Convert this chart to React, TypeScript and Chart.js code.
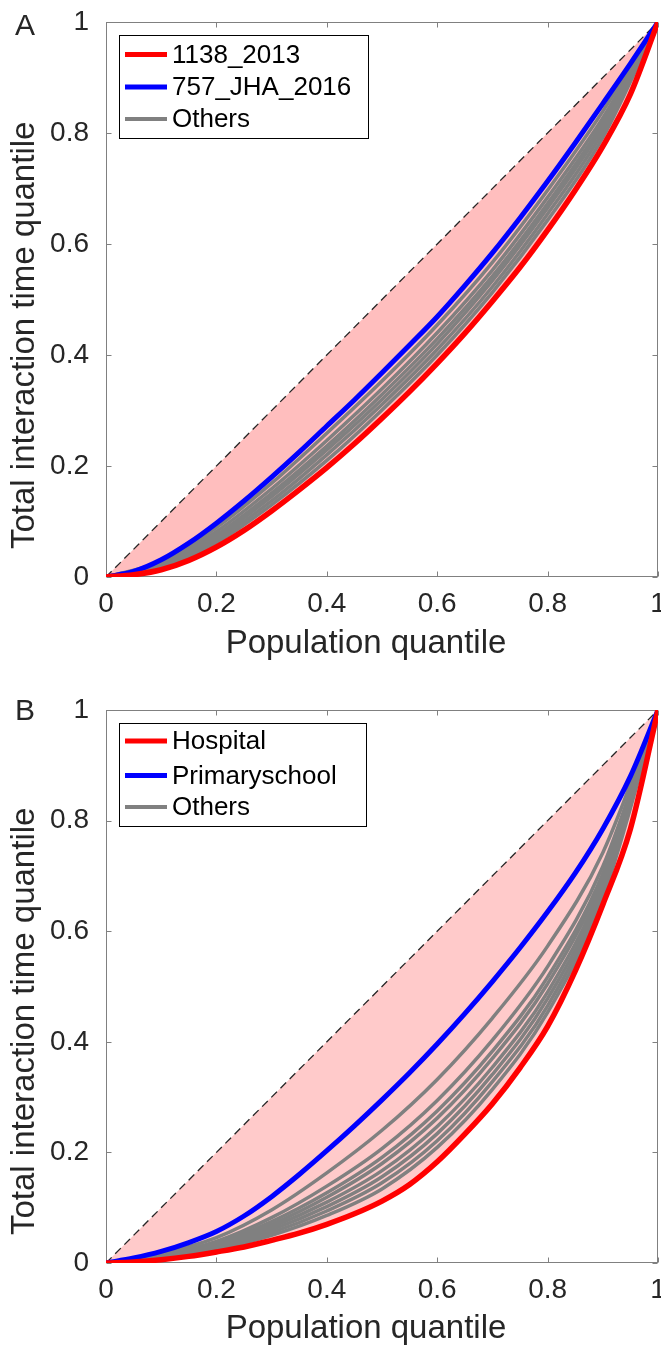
import React, { useEffect, useRef } from "react";
import { Chart, registerables } from "chart.js";

Chart.register(...registerables);

// ---------- data ----------
const quantileFine = [0, 0.05, 0.1, 0.15, 0.2, 0.25, 0.3, 0.35, 0.4, 0.45, 0.5, 0.55, 0.6, 0.65, 0.7, 0.75, 0.8, 0.85, 0.9, 0.95, 1];
const quantileCoarse = [0, 0.1, 0.2, 0.3, 0.4, 0.5, 0.6, 0.7, 0.8, 0.9, 1];
const equalityLine = [0, 1];

const xTickValues = [0, 0.2, 0.4, 0.6, 0.8, 1];
const xTickLabels = ["0", "0.2", "0.4", "0.6", "0.8", "1"];
const yTickValues = [0, 0.2, 0.4, 0.6, 0.8, 1];
const yTickLabels = ["0", "0.2", "0.4", "0.6", "0.8", "1"];

const xTitle = "Population quantile";
const yTitle = "Total interaction time quantile";
const othersName = "Others";

// Panel A
const panelALetter = "A";
const panelARedName = "1138_2013";
const panelARed = [0, 0.004, 0.013, 0.03, 0.054, 0.084, 0.119, 0.157, 0.197, 0.24, 0.286, 0.334, 0.385, 0.439, 0.497, 0.558, 0.625, 0.697, 0.776, 0.87, 1];
const panelABlueName = "757_JHA_2016";
const panelABlue = [0, 0.01, 0.031, 0.061, 0.097, 0.137, 0.18, 0.225, 0.272, 0.319, 0.368, 0.418, 0.469, 0.525, 0.584, 0.647, 0.713, 0.782, 0.853, 0.925, 1];
const panelAOther1 = [0, 0.028, 0.089, 0.169, 0.259, 0.353, 0.454, 0.567, 0.697, 0.839, 1];
const panelAOther2 = [0, 0.025, 0.082, 0.159, 0.246, 0.339, 0.44, 0.553, 0.684, 0.827, 1];
const panelAOther3 = [0, 0.022, 0.076, 0.151, 0.236, 0.329, 0.429, 0.542, 0.673, 0.818, 1];
const panelAOther4 = [0, 0.021, 0.072, 0.145, 0.229, 0.32, 0.42, 0.534, 0.665, 0.811, 1];
const panelAOther5 = [0, 0.018, 0.067, 0.137, 0.22, 0.311, 0.41, 0.523, 0.654, 0.802, 1];
const panelAOther6 = [0, 0.016, 0.062, 0.13, 0.21, 0.301, 0.4, 0.513, 0.643, 0.792, 1];

// Panel B
const panelBLetter = "B";
const panelBRedName = "Hospital";
const panelBRed = [0, 0.002, 0.006, 0.012, 0.02, 0.029, 0.041, 0.054, 0.07, 0.089, 0.112, 0.142, 0.183, 0.233, 0.288, 0.353, 0.428, 0.528, 0.648, 0.785, 1];
const panelBBlueName = "Primaryschool";
const panelBBlue = [0, 0.009, 0.021, 0.037, 0.057, 0.085, 0.12, 0.16, 0.203, 0.248, 0.295, 0.344, 0.396, 0.451, 0.509, 0.57, 0.635, 0.705, 0.785, 0.88, 1];
const panelBOther1 = [0, 0.017, 0.046, 0.096, 0.163, 0.24, 0.332, 0.443, 0.573, 0.742, 1];
const panelBOther2 = [0, 0.014, 0.039, 0.082, 0.139, 0.207, 0.294, 0.403, 0.536, 0.717, 1];
const panelBOther3 = [0, 0.012, 0.036, 0.075, 0.127, 0.191, 0.275, 0.383, 0.517, 0.704, 1];
const panelBOther4 = [0, 0.012, 0.034, 0.07, 0.119, 0.18, 0.262, 0.37, 0.505, 0.696, 1];
const panelBOther5 = [0, 0.011, 0.031, 0.065, 0.11, 0.167, 0.247, 0.354, 0.49, 0.686, 1];
const panelBOther6 = [0, 0.01, 0.029, 0.06, 0.102, 0.156, 0.234, 0.341, 0.478, 0.677, 1];
const panelBOther7 = [0, 0.009, 0.027, 0.055, 0.094, 0.145, 0.221, 0.328, 0.465, 0.669, 1];
const panelBOther8 = [0, 0.008, 0.024, 0.05, 0.086, 0.134, 0.209, 0.314, 0.453, 0.66, 1];

// ---------- styles ----------
const FONT = "'Liberation Sans', Arial, Helvetica, sans-serif";
const RED = "#ff0000";
const BLUE = "#0000ff";
const GRAY = "#808080";
const AXIS = "#808080";
const TEXT = "#262626";

type Layout = {
  canvasH: number;
  padTop: number;
  xAxisH: number;
  fill: string;
  letter: { x: number; y: number };
  yTitle: { x: number; y: number };
  xTitle: { x: number; y: number };
  legend: { x: number; y: number; w: number; h: number; rows: number[] };
};

type Spec = {
  letter: string;
  redName: string;
  red: number[];
  blueName: string;
  blue: number[];
  others: number[][];
  layout: Layout;
};

const specA: Spec = {
  letter: panelALetter,
  redName: panelARedName,
  red: panelARed,
  blueName: panelABlueName,
  blue: panelABlue,
  others: [panelAOther1, panelAOther2, panelAOther3, panelAOther4, panelAOther5, panelAOther6],
  layout: {
    canvasH: 672,
    padTop: 22,
    xAxisH: 95,
    fill: "#ffbebe",
    letter: { x: 15, y: 35 },
    yTitle: { x: 34, y: 549 },
    xTitle: { x: 366, y: 653 },
    legend: { x: 119.5, y: 35.5, w: 249, h: 103, rows: [19, 51.5, 83.5] },
  },
};

const specB: Spec = {
  letter: panelBLetter,
  redName: panelBRedName,
  red: panelBRed,
  blueName: panelBBlueName,
  blue: panelBBlue,
  others: [panelBOther1, panelBOther2, panelBOther3, panelBOther4, panelBOther5, panelBOther6, panelBOther7, panelBOther8],
  layout: {
    canvasH: 673,
    padTop: 38,
    xAxisH: 82,
    fill: "#ffcaca",
    letter: { x: 15, y: 48 },
    yTitle: { x: 34, y: 563 },
    xTitle: { x: 366, y: 666 },
    legend: { x: 119.5, y: 51.5, w: 247, h: 103, rows: [17.5, 52, 83.5] },
  },
};

function Panel({ spec }: { spec: Spec }) {
  const ref = useRef<HTMLCanvasElement>(null);

  useEffect(() => {
    const canvas = ref.current;
    if (!canvas) return;
    const L = spec.layout;
    const toPts = (xs: number[], ys: number[]) => xs.map((x, i) => ({ x, y: ys[i] }));
    const common = {
      pointRadius: 0,
      pointHoverRadius: 0,
      cubicInterpolationMode: "monotone",
      borderJoinStyle: "round",
    };
    const datasets: any[] = [
      { ...common, label: spec.redName, data: toPts(quantileFine, spec.red), borderColor: RED, borderWidth: 5.5, fill: 2, backgroundColor: L.fill },
      { ...common, label: spec.blueName, data: toPts(quantileFine, spec.blue), borderColor: BLUE, borderWidth: 5, fill: false },
      { ...common, label: "equality", data: toPts(equalityLine, equalityLine), borderColor: "#262626", borderWidth: 1.3, borderDash: [8, 5], fill: false },
      ...spec.others.map((ys, i) => ({
        ...common,
        label: i === 0 ? othersName : othersName + " " + (i + 1),
        data: toPts(quantileCoarse, ys),
        borderColor: GRAY,
        borderWidth: 3.5,
        fill: false,
      })),
    ];

    const legendItems = [
      { text: spec.redName, color: RED, width: 5 },
      { text: spec.blueName, color: BLUE, width: 5 },
      { text: othersName, color: GRAY, width: 4 },
    ];

    const framePlugin = {
      id: "frame",
      beforeDatasetsDraw(chart: any) {
        const { ctx, chartArea: a, scales } = chart;
        ctx.save();
        ctx.strokeStyle = AXIS;
        ctx.lineWidth = 1;
        const l = a.left + 0.5, r = a.right - 0.5, t = a.top + 0.5, b = a.bottom - 0.5;
        ctx.strokeRect(l, t, r - l, b - t);
        ctx.beginPath();
        for (const tk of scales.x.ticks) {
          const px = Math.round(scales.x.getPixelForValue(tk.value)) + 0.5;
          ctx.moveTo(px, b); ctx.lineTo(px, b - 5);
          ctx.moveTo(px, t); ctx.lineTo(px, t + 5);
        }
        for (const tk of scales.y.ticks) {
          const py = Math.round(scales.y.getPixelForValue(tk.value)) + 0.5;
          ctx.moveTo(l, py); ctx.lineTo(l + 5, py);
          ctx.moveTo(r, py); ctx.lineTo(r - 5, py);
        }
        ctx.stroke();
        ctx.restore();
      },
    };

    const textPlugin = {
      id: "texts",
      afterDraw(chart: any) {
        const { ctx } = chart;
        ctx.save();
        ctx.fillStyle = TEXT;
        ctx.font = `30px ${FONT}`;
        ctx.textAlign = "left";
        ctx.textBaseline = "alphabetic";
        ctx.fillText(spec.letter, L.letter.x, L.letter.y);
        ctx.font = `33px ${FONT}`;
        ctx.textAlign = "center";
        ctx.fillText(xTitle, L.xTitle.x, L.xTitle.y);
        ctx.save();
        ctx.translate(L.yTitle.x, L.yTitle.y);
        ctx.rotate(-Math.PI / 2);
        ctx.textAlign = "left";
        ctx.fillText(yTitle, 0, 0);
        ctx.restore();
        const lg = L.legend;
        ctx.fillStyle = "#ffffff";
        ctx.fillRect(lg.x, lg.y, lg.w, lg.h);
        ctx.strokeStyle = "#000000";
        ctx.lineWidth = 1;
        ctx.strokeRect(lg.x, lg.y, lg.w, lg.h);
        ctx.font = `26px ${FONT}`;
        ctx.textAlign = "left";
        ctx.textBaseline = "middle";
        legendItems.forEach((it, i) => {
          const cy = lg.y + lg.rows[i];
          ctx.strokeStyle = it.color;
          ctx.lineWidth = it.width;
          ctx.beginPath();
          ctx.moveTo(lg.x + 5.5, cy);
          ctx.lineTo(lg.x + 47.5, cy);
          ctx.stroke();
          ctx.fillStyle = "#000000";
          ctx.fillText(it.text, lg.x + 52.5, cy + 1);
        });
        ctx.restore();
      },
    };

    const chart = new Chart(canvas, {
      type: "line",
      data: { datasets },
      options: {
        responsive: false,
        animation: false,
        devicePixelRatio: 1,
        events: [],
        layout: { padding: { left: 0, right: 3, top: L.padTop, bottom: 0 } },
        plugins: {
          legend: { display: false },
          tooltip: { enabled: false },
          filler: { drawTime: "beforeDatasetsDraw" },
        },
        scales: {
          x: {
            type: "linear",
            min: 0,
            max: 1,
            grid: { display: false, drawTicks: false },
            border: { display: false },
            afterBuildTicks: (scale: any) => {
              scale.ticks = xTickValues.map((value) => ({ value }));
            },
            afterFit: (scale: any) => {
              scale.height = L.xAxisH;
              scale.paddingLeft = 0;
              scale.paddingRight = 0;
            },
            ticks: {
              autoSkip: false,
              maxRotation: 0,
              padding: 10,
              color: TEXT,
              font: { family: FONT, size: 28 },
              callback: (_v: any, i: number) => xTickLabels[i],
            },
          },
          y: {
            type: "linear",
            min: 0,
            max: 1,
            grid: { display: false, drawTicks: false },
            border: { display: false },
            afterBuildTicks: (scale: any) => {
              scale.ticks = yTickValues.map((value) => ({ value }));
            },
            afterFit: (scale: any) => {
              scale.width = 106;
              scale.paddingTop = 0;
              scale.paddingBottom = 0;
            },
            ticks: {
              autoSkip: false,
              padding: 17,
              color: TEXT,
              font: { family: FONT, size: 28 },
              callback: (_v: any, i: number) => yTickLabels[i],
            },
          },
        },
      } as any,
      plugins: [framePlugin, textPlugin],
    });
    return () => chart.destroy();
  }, [spec]);

  return <canvas ref={ref} width={661} height={spec.layout.canvasH} style={{ display: "block" }} />;
}

export default function App() {
  return (
    <div style={{ position: "absolute", left: 0, top: 0, width: 661, height: 1345, background: "#ffffff" }}>
      <Panel spec={specA} />
      <Panel spec={specB} />
    </div>
  );
}
